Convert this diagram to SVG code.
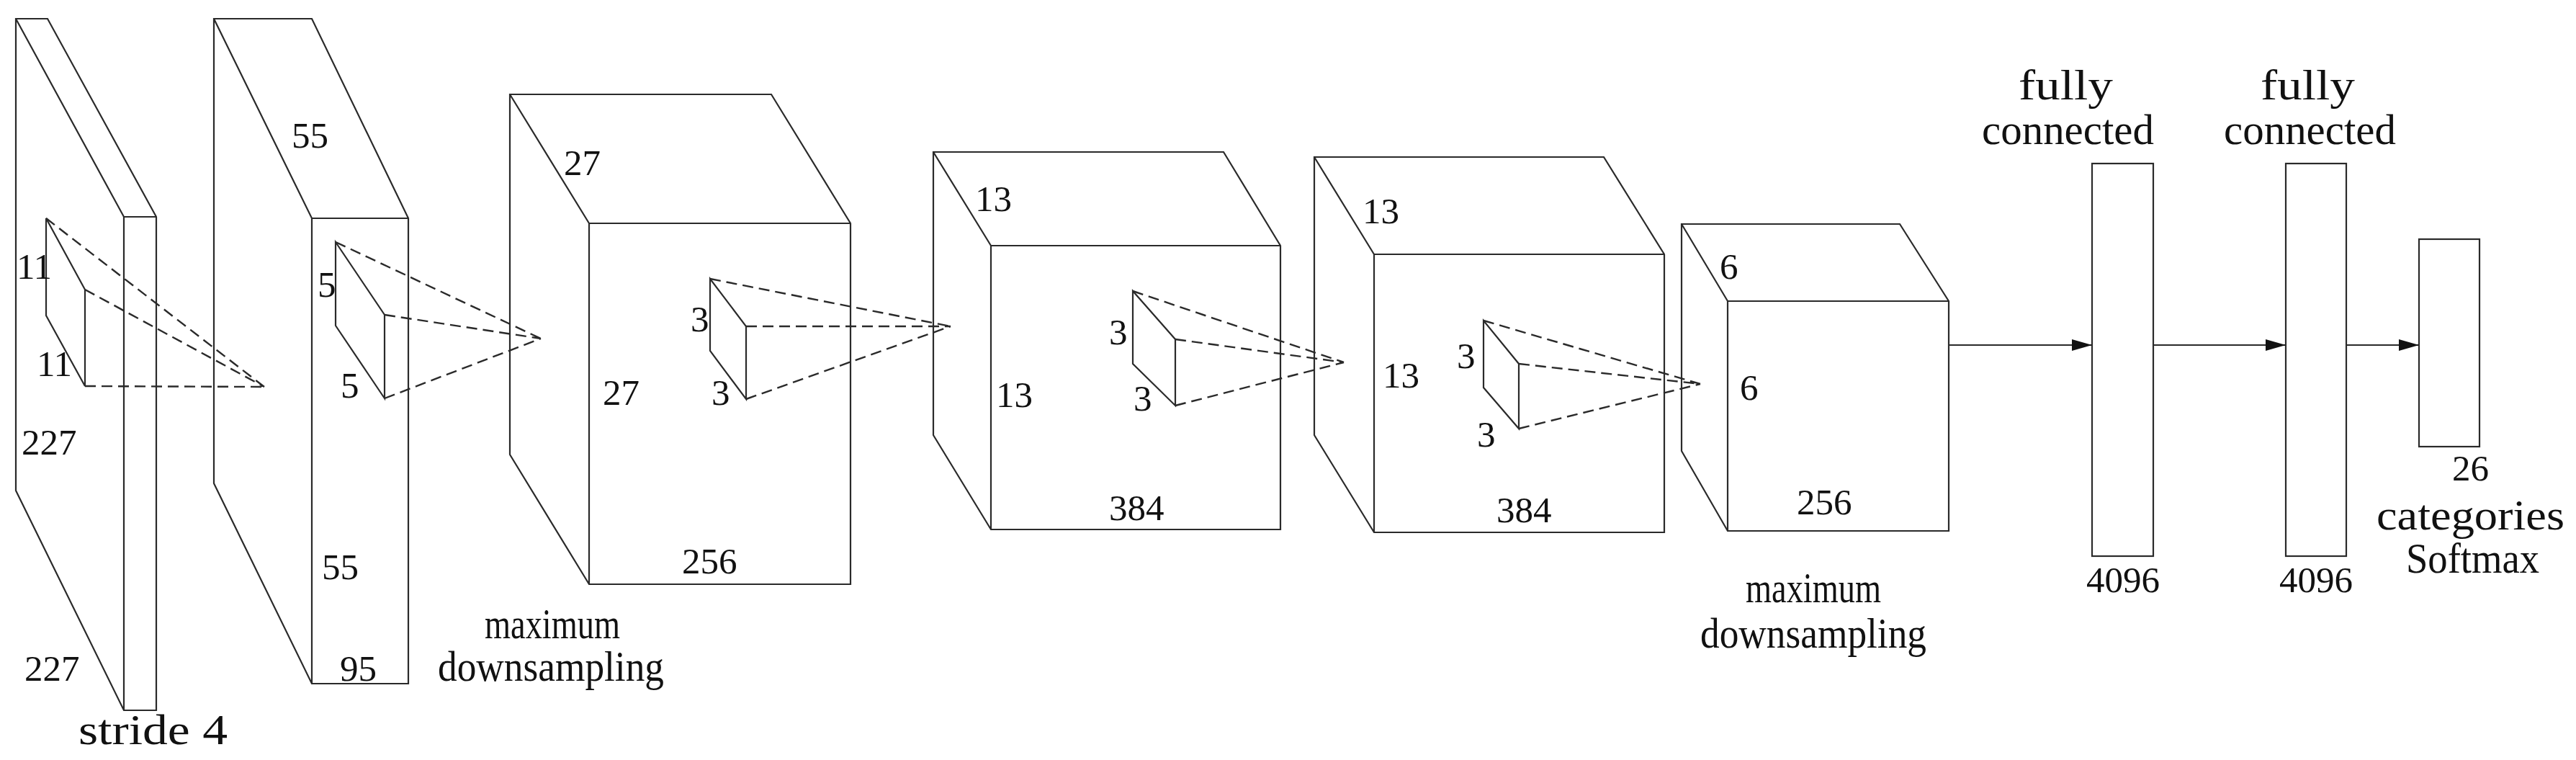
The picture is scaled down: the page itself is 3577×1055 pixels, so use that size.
<svg xmlns="http://www.w3.org/2000/svg" width="3577" height="1055" viewBox="0 0 3577 1055">
<style>
.e{fill:none;stroke:#2a2a2a;stroke-width:2.2;stroke-linejoin:miter}
.d{fill:none;stroke:#2a2a2a;stroke-width:2.4;stroke-dasharray:15 8}
.a{fill:none;stroke:#2a2a2a;stroke-width:2.2}
.n{font-family:"Liberation Serif","Times New Roman",serif;font-size:51px;fill:#111}
.t{font-family:"Liberation Serif","Times New Roman",serif;font-size:60px;fill:#111}
</style>
<defs>
<marker id="ah" markerUnits="userSpaceOnUse" markerWidth="28" markerHeight="16" refX="28" refY="8" orient="auto">
<path d="M0,0 L28,8 L0,16 z" fill="#111"/>
</marker>
</defs>
<rect width="3577" height="1055" fill="#fff"/>

<g id="input-slab">
<path class="e" d="M22,26 L66,26 L217,301 L217,986 L172,986 L22,681 Z M22,26 L172,301 L217,301 M172,301 L172,986"/>
<path class="e" d="M64,303 L64,438 L118,536 L118,402 Z"/>
<text class="n" x="23" y="387">11</text>
<text class="n" x="51" y="522">11</text>
<text class="n" x="30" y="631">227</text>
<text class="n" x="34" y="945">227</text>
<text class="t" x="109" y="1033" textLength="207" lengthAdjust="spacingAndGlyphs">stride 4</text>
</g>

<g id="conv1">
<path class="e" d="M297,26 L433,26 L567,303 L567,949 L433,949 L297,671 Z M297,26 L433,303 L567,303 M433,303 L433,949"/>
<path class="e" d="M466,336 L466,452 L534,553 L534,437 Z"/>
<text class="n" x="405" y="205">55</text>
<text class="n" x="441" y="412">5</text>
<text class="n" x="473" y="552">5</text>
<text class="n" x="447" y="804">55</text>
<text class="n" x="472" y="945">95</text>
<text class="t" x="673" y="886" textLength="188" lengthAdjust="spacingAndGlyphs">maximum</text>
<text class="t" x="608" y="945" textLength="314" lengthAdjust="spacingAndGlyphs">downsampling</text>
</g>

<g id="conv2">
<path class="e" d="M708,131 L1071,131 L1181,310 L1181,811 L818,811 L708,631 Z M708,131 L818,310 L1181,310 M818,310 L818,811"/>
<path class="e" d="M986,387 L986,487 L1036,554 L1036,453 Z"/>
<text class="n" x="783" y="243">27</text>
<text class="n" x="837" y="562">27</text>
<text class="n" x="959" y="460">3</text>
<text class="n" x="988" y="562">3</text>
<text class="n" x="947" y="796">256</text>
</g>

<g id="conv3">
<path class="e" d="M1296,211 L1699,211 L1778,341 L1778,735 L1376,735 L1296,604 Z M1296,211 L1376,341 L1778,341 M1376,341 L1376,735"/>
<path class="e" d="M1573,404 L1573,505 L1632,563 L1632,471 Z"/>
<text class="n" x="1354" y="293">13</text>
<text class="n" x="1383" y="565">13</text>
<text class="n" x="1540" y="478">3</text>
<text class="n" x="1574" y="570">3</text>
<text class="n" x="1540" y="722">384</text>
</g>

<g id="conv4">
<path class="e" d="M1825,218 L2227,218 L2311,353 L2311,739 L1908,739 L1825,604 Z M1825,218 L1908,353 L2311,353 M1908,353 L1908,739"/>
<path class="e" d="M2060,445 L2060,538 L2109,595 L2109,505 Z"/>
<text class="n" x="1892" y="310">13</text>
<text class="n" x="1920" y="538">13</text>
<text class="n" x="2023" y="511">3</text>
<text class="n" x="2051" y="620">3</text>
<text class="n" x="2078" y="725">384</text>
</g>

<g id="conv5">
<path class="e" d="M2335,311 L2638,311 L2706,418 L2706,737 L2399,737 L2335,626 Z M2335,311 L2399,418 L2706,418 M2399,418 L2399,737"/>
<text class="n" x="2388" y="387">6</text>
<text class="n" x="2416" y="555">6</text>
<text class="n" x="2495" y="714">256</text>
<text class="t" x="2424" y="836" textLength="188" lengthAdjust="spacingAndGlyphs">maximum</text>
<text class="t" x="2361" y="899" textLength="314" lengthAdjust="spacingAndGlyphs">downsampling</text>
</g>

<g id="fc1">
<rect class="e" x="2905" y="227" width="85" height="545"/>
<text class="t" x="2803" y="138" textLength="131" lengthAdjust="spacingAndGlyphs">fully</text>
<text class="t" x="2752" y="200" textLength="239" lengthAdjust="spacingAndGlyphs">connected</text>
<text class="n" x="2897" y="822">4096</text>
</g>

<g id="fc2">
<rect class="e" x="3174" y="227" width="84" height="545"/>
<text class="t" x="3139" y="138" textLength="131" lengthAdjust="spacingAndGlyphs">fully</text>
<text class="t" x="3088" y="200" textLength="239" lengthAdjust="spacingAndGlyphs">connected</text>
<text class="n" x="3165" y="822">4096</text>
</g>

<g id="softmax">
<rect class="e" x="3359" y="332" width="84" height="288"/>
<text class="n" x="3405" y="667">26</text>
<text class="t" x="3300" y="735" textLength="261" lengthAdjust="spacingAndGlyphs">categories</text>
<text class="t" x="3341" y="795" textLength="185" lengthAdjust="spacingAndGlyphs">Softmax</text>
</g>

<g id="connectors">
<path class="d" d="M64,303 L367,537 M118,402 L367,537 M118,536 L367,537"/>
<path class="d" d="M466,336 L751,470 M534,437 L751,470 M534,553 L751,470"/>
<path class="d" d="M986,387 L1320,453 M1036,453 L1320,453 M1036,554 L1320,453"/>
<path class="d" d="M1573,404 L1866,503 M1632,471 L1866,503 M1632,563 L1866,503"/>
<path class="d" d="M2060,445 L2361,533 M2109,505 L2361,533 M2109,595 L2361,533"/>
<line class="a" x1="2706" y1="479" x2="2905" y2="479" marker-end="url(#ah)"/>
<line class="a" x1="2990" y1="479" x2="3174" y2="479" marker-end="url(#ah)"/>
<line class="a" x1="3258" y1="479" x2="3359" y2="479" marker-end="url(#ah)"/>
</g>
</svg>
